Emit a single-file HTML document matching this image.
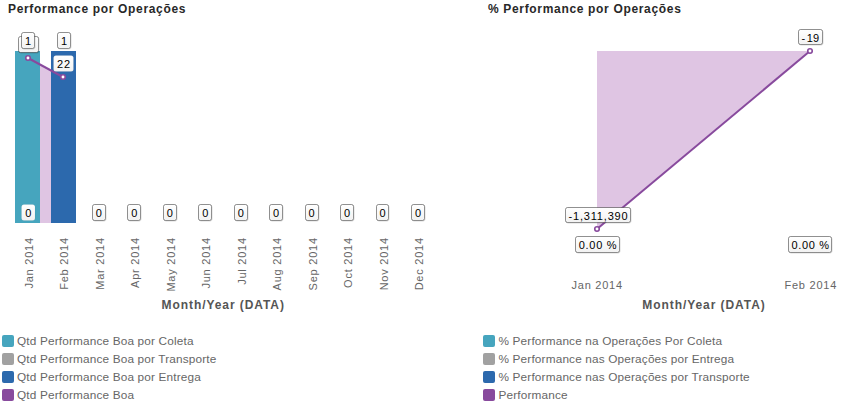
<!DOCTYPE html>
<html><head><meta charset="utf-8"><style>
html,body{margin:0;padding:0;background:#fff;width:864px;height:410px;overflow:hidden}
svg{display:block;font-family:"Liberation Sans", sans-serif}
</style></head><body>
<svg width="864" height="410" viewBox="0 0 864 410">
<defs><linearGradient id="lg" x1="0" y1="0" x2="0" y2="1"><stop offset="0" stop-color="#ffffff"/><stop offset="1" stop-color="#f2f2f2"/></linearGradient></defs>
<text x="8" y="13" font-weight="bold" font-size="12" fill="#282828" style="letter-spacing:0.67px">Performance por Operações</text>
<polygon points="28,58 63,77 63,223 28,223" fill="#dfc5e3"/>
<rect x="15" y="51" width="25" height="172" fill="#46a5be"/>
<rect x="51" y="51" width="25" height="172" fill="#2c69ad"/>
<line x1="28" y1="58" x2="63" y2="77" stroke="#884a9d" stroke-width="2"/>
<circle cx="28" cy="58" r="2.25" fill="#fff" stroke="#884a9d" stroke-width="1.6"/>
<circle cx="63" cy="77" r="2.25" fill="#fff" stroke="#884a9d" stroke-width="1.6"/>
<rect x="19.10" y="37.10" width="20.00" height="16.00" rx="2" ry="2" fill="none" stroke="rgba(0,0,0,0.12)" stroke-width="1"/>
<rect x="18.50" y="36.50" width="20.00" height="16.00" rx="2" ry="2" fill="url(#lg)" stroke="rgba(0,0,0,0.42)" stroke-width="1"/>
<rect x="22.10" y="33.10" width="13.00" height="16.00" rx="2" ry="2" fill="none" stroke="rgba(0,0,0,0.12)" stroke-width="1"/>
<rect x="21.50" y="32.50" width="13.00" height="16.00" rx="2" ry="2" fill="url(#lg)" stroke="rgba(0,0,0,0.42)" stroke-width="1"/>
<text x="28.15" y="45.26" text-anchor="middle" font-size="11" fill="#000" style="letter-spacing:0.3px">1</text>
<rect x="58.10" y="33.10" width="13.00" height="16.00" rx="2" ry="2" fill="none" stroke="rgba(0,0,0,0.12)" stroke-width="1"/>
<rect x="57.50" y="32.50" width="13.00" height="16.00" rx="2" ry="2" fill="url(#lg)" stroke="rgba(0,0,0,0.42)" stroke-width="1"/>
<text x="64.15" y="45.26" text-anchor="middle" font-size="11" fill="#000" style="letter-spacing:0.3px">1</text>
<rect x="53.50" y="55.50" width="20.00" height="16.00" rx="2.5" ry="2.5" fill="url(#lg)" stroke="rgba(0,0,0,0.08)" stroke-width="0.6"/>
<text x="64.00" y="67.96" text-anchor="middle" font-size="11" fill="#000" style="letter-spacing:1.0px">22</text>
<rect x="21.50" y="204.50" width="13.50" height="16.00" rx="2.5" ry="2.5" fill="url(#lg)" stroke="rgba(0,0,0,0.08)" stroke-width="0.6"/>
<text x="28.40" y="217.06" text-anchor="middle" font-size="11" fill="#000" style="letter-spacing:0.3px">0</text>
<text transform="translate(33.00,237.2) rotate(-90)" text-anchor="end" font-size="11" fill="#666" style="letter-spacing:0.76px">Jan 2014</text>
<text transform="translate(68.45,237.2) rotate(-90)" text-anchor="end" font-size="11" fill="#666" style="letter-spacing:0.76px">Feb 2014</text>
<rect x="93.10" y="205.10" width="13.00" height="16.00" rx="2" ry="2" fill="none" stroke="rgba(0,0,0,0.12)" stroke-width="1"/>
<rect x="92.50" y="204.50" width="13.00" height="16.00" rx="2" ry="2" fill="url(#lg)" stroke="rgba(0,0,0,0.42)" stroke-width="1"/>
<text x="99.05" y="217.26" text-anchor="middle" font-size="11" fill="#000" style="letter-spacing:0.3px">0</text>
<text transform="translate(103.90,237.2) rotate(-90)" text-anchor="end" font-size="11" fill="#666" style="letter-spacing:0.76px">Mar 2014</text>
<rect x="128.10" y="205.10" width="13.00" height="16.00" rx="2" ry="2" fill="none" stroke="rgba(0,0,0,0.12)" stroke-width="1"/>
<rect x="127.50" y="204.50" width="13.00" height="16.00" rx="2" ry="2" fill="url(#lg)" stroke="rgba(0,0,0,0.42)" stroke-width="1"/>
<text x="134.50" y="217.26" text-anchor="middle" font-size="11" fill="#000" style="letter-spacing:0.3px">0</text>
<text transform="translate(139.35,237.2) rotate(-90)" text-anchor="end" font-size="11" fill="#666" style="letter-spacing:0.76px">Apr 2014</text>
<rect x="164.10" y="205.10" width="13.00" height="16.00" rx="2" ry="2" fill="none" stroke="rgba(0,0,0,0.12)" stroke-width="1"/>
<rect x="163.50" y="204.50" width="13.00" height="16.00" rx="2" ry="2" fill="url(#lg)" stroke="rgba(0,0,0,0.42)" stroke-width="1"/>
<text x="169.95" y="217.26" text-anchor="middle" font-size="11" fill="#000" style="letter-spacing:0.3px">0</text>
<text transform="translate(174.80,237.2) rotate(-90)" text-anchor="end" font-size="11" fill="#666" style="letter-spacing:0.76px">May 2014</text>
<rect x="199.10" y="205.10" width="13.00" height="16.00" rx="2" ry="2" fill="none" stroke="rgba(0,0,0,0.12)" stroke-width="1"/>
<rect x="198.50" y="204.50" width="13.00" height="16.00" rx="2" ry="2" fill="url(#lg)" stroke="rgba(0,0,0,0.42)" stroke-width="1"/>
<text x="205.40" y="217.26" text-anchor="middle" font-size="11" fill="#000" style="letter-spacing:0.3px">0</text>
<text transform="translate(210.25,237.2) rotate(-90)" text-anchor="end" font-size="11" fill="#666" style="letter-spacing:0.76px">Jun 2014</text>
<rect x="235.10" y="205.10" width="13.00" height="16.00" rx="2" ry="2" fill="none" stroke="rgba(0,0,0,0.12)" stroke-width="1"/>
<rect x="234.50" y="204.50" width="13.00" height="16.00" rx="2" ry="2" fill="url(#lg)" stroke="rgba(0,0,0,0.42)" stroke-width="1"/>
<text x="240.85" y="217.26" text-anchor="middle" font-size="11" fill="#000" style="letter-spacing:0.3px">0</text>
<text transform="translate(245.70,237.2) rotate(-90)" text-anchor="end" font-size="11" fill="#666" style="letter-spacing:0.76px">Jul 2014</text>
<rect x="270.10" y="205.10" width="13.00" height="16.00" rx="2" ry="2" fill="none" stroke="rgba(0,0,0,0.12)" stroke-width="1"/>
<rect x="269.50" y="204.50" width="13.00" height="16.00" rx="2" ry="2" fill="url(#lg)" stroke="rgba(0,0,0,0.42)" stroke-width="1"/>
<text x="276.30" y="217.26" text-anchor="middle" font-size="11" fill="#000" style="letter-spacing:0.3px">0</text>
<text transform="translate(281.15,237.2) rotate(-90)" text-anchor="end" font-size="11" fill="#666" style="letter-spacing:0.76px">Aug 2014</text>
<rect x="306.10" y="205.10" width="13.00" height="16.00" rx="2" ry="2" fill="none" stroke="rgba(0,0,0,0.12)" stroke-width="1"/>
<rect x="305.50" y="204.50" width="13.00" height="16.00" rx="2" ry="2" fill="url(#lg)" stroke="rgba(0,0,0,0.42)" stroke-width="1"/>
<text x="311.75" y="217.26" text-anchor="middle" font-size="11" fill="#000" style="letter-spacing:0.3px">0</text>
<text transform="translate(316.60,237.2) rotate(-90)" text-anchor="end" font-size="11" fill="#666" style="letter-spacing:0.76px">Sep 2014</text>
<rect x="341.10" y="205.10" width="13.00" height="16.00" rx="2" ry="2" fill="none" stroke="rgba(0,0,0,0.12)" stroke-width="1"/>
<rect x="340.50" y="204.50" width="13.00" height="16.00" rx="2" ry="2" fill="url(#lg)" stroke="rgba(0,0,0,0.42)" stroke-width="1"/>
<text x="347.20" y="217.26" text-anchor="middle" font-size="11" fill="#000" style="letter-spacing:0.3px">0</text>
<text transform="translate(352.05,237.2) rotate(-90)" text-anchor="end" font-size="11" fill="#666" style="letter-spacing:0.76px">Oct 2014</text>
<rect x="377.10" y="205.10" width="12.00" height="16.00" rx="2" ry="2" fill="none" stroke="rgba(0,0,0,0.12)" stroke-width="1"/>
<rect x="376.50" y="204.50" width="12.00" height="16.00" rx="2" ry="2" fill="url(#lg)" stroke="rgba(0,0,0,0.42)" stroke-width="1"/>
<text x="382.65" y="217.26" text-anchor="middle" font-size="11" fill="#000" style="letter-spacing:0.3px">0</text>
<text transform="translate(387.50,237.2) rotate(-90)" text-anchor="end" font-size="11" fill="#666" style="letter-spacing:0.76px">Nov 2014</text>
<rect x="412.10" y="205.10" width="13.00" height="16.00" rx="2" ry="2" fill="none" stroke="rgba(0,0,0,0.12)" stroke-width="1"/>
<rect x="411.50" y="204.50" width="13.00" height="16.00" rx="2" ry="2" fill="url(#lg)" stroke="rgba(0,0,0,0.42)" stroke-width="1"/>
<text x="418.10" y="217.26" text-anchor="middle" font-size="11" fill="#000" style="letter-spacing:0.3px">0</text>
<text transform="translate(422.95,237.2) rotate(-90)" text-anchor="end" font-size="11" fill="#666" style="letter-spacing:0.76px">Dec 2014</text>
<text x="223.2" y="308.7" text-anchor="middle" font-weight="bold" font-size="12" fill="#555" style="letter-spacing:0.93px">Month/Year (DATA)</text>
<rect x="2" y="335" width="12" height="12" rx="2" fill="#46a5be"/>
<text x="17" y="344.7" font-size="11.8" fill="#666" style="letter-spacing:0.16px">Qtd Performance Boa por Coleta</text>
<rect x="2" y="353" width="12" height="12" rx="2" fill="#a1a1a1"/>
<text x="17" y="362.7" font-size="11.8" fill="#666" style="letter-spacing:0.16px">Qtd Performance Boa por Transporte</text>
<rect x="2" y="371" width="12" height="12" rx="2" fill="#2c69ad"/>
<text x="17" y="380.7" font-size="11.8" fill="#666" style="letter-spacing:0.16px">Qtd Performance Boa por Entrega</text>
<rect x="2" y="389" width="12" height="12" rx="2" fill="#884a9d"/>
<text x="17" y="398.7" font-size="11.8" fill="#666" style="letter-spacing:0.16px">Qtd Performance Boa</text>
<text x="488" y="13" font-weight="bold" font-size="12" fill="#282828" style="letter-spacing:0.67px">% Performance por Operações</text>
<polygon points="597,51 810,51 597,229" fill="#dfc5e3"/>
<line x1="597" y1="229" x2="810" y2="51" stroke="#884a9d" stroke-width="2"/>
<circle cx="597" cy="229" r="2.25" fill="#fff" stroke="#884a9d" stroke-width="1.6"/>
<circle cx="810" cy="51" r="2.25" fill="#fff" stroke="#884a9d" stroke-width="1.6"/>
<rect x="799.10" y="30.10" width="24.00" height="15.00" rx="2" ry="2" fill="none" stroke="rgba(0,0,0,0.12)" stroke-width="1"/>
<rect x="798.50" y="29.50" width="24.00" height="15.00" rx="2" ry="2" fill="url(#lg)" stroke="rgba(0,0,0,0.42)" stroke-width="1"/>
<text x="810.50" y="41.76" text-anchor="middle" font-size="11" fill="#000" style="letter-spacing:0.3px">-<tspan dx="1.2">19</tspan></text>
<rect x="566.10" y="208.10" width="65.00" height="15.00" rx="2" ry="2" fill="none" stroke="rgba(0,0,0,0.12)" stroke-width="1"/>
<rect x="565.50" y="207.50" width="65.00" height="15.00" rx="2" ry="2" fill="url(#lg)" stroke="rgba(0,0,0,0.42)" stroke-width="1"/>
<text x="598.52" y="219.96" text-anchor="middle" font-size="11" fill="#000" style="letter-spacing:0.8px">-1,311,390</text>
<rect x="576.10" y="237.10" width="44.00" height="16.00" rx="2" ry="2" fill="none" stroke="rgba(0,0,0,0.12)" stroke-width="1"/>
<rect x="575.50" y="236.50" width="44.00" height="16.00" rx="2" ry="2" fill="url(#lg)" stroke="rgba(0,0,0,0.42)" stroke-width="1"/>
<text x="597.97" y="249.26" text-anchor="middle" font-size="11" fill="#000" style="letter-spacing:0.68px">0.00 %</text>
<rect x="789.10" y="237.10" width="43.00" height="16.00" rx="2" ry="2" fill="none" stroke="rgba(0,0,0,0.12)" stroke-width="1"/>
<rect x="788.50" y="236.50" width="43.00" height="16.00" rx="2" ry="2" fill="url(#lg)" stroke="rgba(0,0,0,0.42)" stroke-width="1"/>
<text x="810.64" y="249.26" text-anchor="middle" font-size="11" fill="#000" style="letter-spacing:0.68px">0.00 %</text>
<text x="597.2" y="289" text-anchor="middle" font-size="11" fill="#666" style="letter-spacing:0.76px">Jan 2014</text>
<text x="810.8" y="289" text-anchor="middle" font-size="11" fill="#666" style="letter-spacing:0.76px">Feb 2014</text>
<text x="704" y="308.7" text-anchor="middle" font-weight="bold" font-size="12" fill="#555" style="letter-spacing:0.93px">Month/Year (DATA)</text>
<rect x="483" y="335" width="12" height="12" rx="2" fill="#46a5be"/>
<text x="498.5" y="344.7" font-size="11.8" fill="#666" style="letter-spacing:0.16px">% Performance na Operações Por Coleta</text>
<rect x="483" y="353" width="12" height="12" rx="2" fill="#a1a1a1"/>
<text x="498.5" y="362.7" font-size="11.8" fill="#666" style="letter-spacing:0.16px">% Performance nas Operações por Entrega</text>
<rect x="483" y="371" width="12" height="12" rx="2" fill="#2c69ad"/>
<text x="498.5" y="380.7" font-size="11.8" fill="#666" style="letter-spacing:0.16px">% Performance nas Operações por Transporte</text>
<rect x="483" y="389" width="12" height="12" rx="2" fill="#884a9d"/>
<text x="498.5" y="398.7" font-size="11.8" fill="#666" style="letter-spacing:0.16px">Performance</text>
</svg>
</body></html>
